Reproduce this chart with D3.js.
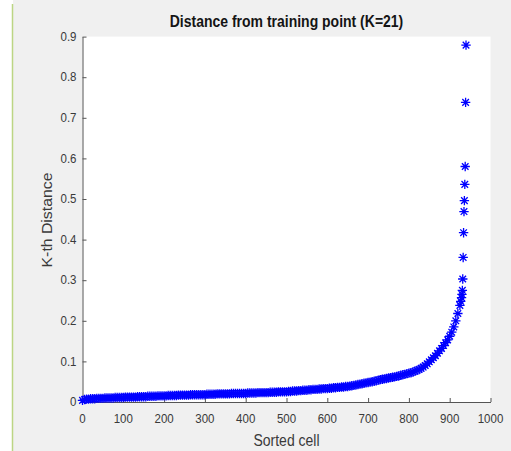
<!DOCTYPE html>
<html>
<head>
<meta charset="utf-8">
<script src="https://cdn.jsdelivr.net/npm/d3@7"></script>
<style>
  body { margin: 0; background: #ffffff; }
  text { font-family: "Liberation Sans", Arial, sans-serif; }
</style>
</head>
<body>
<script>
// sorted cell index and the K-th neighbour distance
var cells = [
  0, 5, 10, 15, 20, 25, 30, 35, 40, 45,
  50, 55, 60, 65, 70, 75, 80, 85, 90, 95,
  100, 105, 110, 115, 120, 125, 130, 135, 140, 145,
  150, 155, 160, 165, 170, 175, 180, 185, 190, 195,
  200, 205, 210, 215, 220, 225, 230, 235, 240, 245,
  250, 255, 260, 265, 270, 275, 280, 285, 290, 295,
  300, 305, 310, 315, 320, 325, 330, 335, 340, 345,
  350, 355, 360, 365, 370, 375, 380, 385, 390, 395,
  400, 405, 410, 415, 420, 425, 430, 435, 440, 445,
  450, 455, 460, 465, 470, 475, 480, 485, 490, 495,
  500, 505, 510, 515, 520, 525, 530, 535, 540, 545,
  550, 555, 560, 565, 570, 575, 580, 585, 590, 595,
  600, 605, 610, 615, 620, 625, 630, 635, 640, 645,
  650, 655, 660, 665, 670, 675, 680, 685, 690, 695,
  700, 705, 710, 715, 720, 725, 730, 735, 740, 745,
  750, 755, 760, 765, 770, 775, 780, 785, 790, 795,
  800, 805, 810, 815, 820, 825, 830, 835, 840, 845,
  850, 855, 860, 865, 870, 875, 880, 885, 890, 895,
  900, 905, 910, 915, 920, 925, 927, 929, 930,
  931, 932, 933, 934, 935, 936, 937, 938, 939, 940
];

var dist = [
  .004, .006, .007, .007, .008, .008, .008, .009, .009, .009,
  .009, .010, .010, .010, .010, .010, .011, .011, .011, .011,
  .011, .012, .012, .012, .012, .012, .012, .013, .013, .013,
  .013, .013, .014, .014, .014, .014, .014, .015, .015, .015,
  .015, .015, .016, .016, .016, .016, .016, .017, .017, .017,
  .017, .017, .017, .018, .018, .018, .018, .018, .018, .018,
  .018, .019, .019, .019, .019, .019, .020, .020, .020, .020,
  .020, .020, .020, .021, .021, .021, .021, .021, .021, .021,
  .021, .022, .022, .022, .022, .022, .023, .023, .023, .023,
  .023, .023, .024, .024, .024, .024, .025, .025, .025, .025,
  .025, .026, .026, .027, .027, .027, .028, .028, .029, .029,
  .029, .030, .030, .031, .031, .031, .032, .032, .033, .033,
  .033, .034, .034, .035, .035, .036, .036, .037, .037, .038,
  .038, .039, .040, .041, .042, .043, .044, .045, .046, .047,
  .048, .049, .050, .051, .052, .054, .055, .056, .057, .058,
  .059, .060, .061, .062, .063, .064, .066, .067, .068, .070,
  .071, .072, .074, .076, .078, .080, .083, .086, .090, .094,
  .099, .104, .109, .114, .120, .126, .132, .139, .146, .153,
  .162, .172, .185, .200, .218, .238, .248, .257, .265,
  .275, .303, .356, .417, .469, .496, .536, .580, .738, .879
];

var xTicks = [0, 100, 200, 300, 400, 500, 600, 700, 800, 900, 1000];
var yTicks = [0, 0.1, 0.2, 0.3, 0.4, 0.5, 0.6, 0.7, 0.8, 0.9];

var W = 511, H = 451;
var plot = { left: 82.5, right: 490.5, top: 36.6, bottom: 402 };
var stretch = 1.13;

var svg = d3.select("body")
            .append("svg")
            .attr("width", W)
            .attr("height", H);

svg.append("rect")
   .attr("x", 13).attr("y", 0)
   .attr("width", W - 13).attr("height", H)
   .attr("fill", "#f0f0f0");

svg.append("line")
   .attr("x1", 12.5).attr("x2", 12.5)
   .attr("y1", 4).attr("y2", H)
   .attr("stroke", "#bcd584")
   .attr("stroke-width", 1.5);

svg.append("rect")
   .attr("x", plot.left).attr("y", plot.top)
   .attr("width", plot.right - plot.left)
   .attr("height", plot.bottom - plot.top)
   .attr("fill", "#ffffff");

var x = d3.scaleLinear().domain([0, 1000]).range([plot.left, plot.right]);
var y = d3.scaleLinear().domain([0, 0.9]).range([plot.bottom, plot.top]);

// ticks point inward like matlab
var xAxis = svg.append("g")
   .attr("transform", "translate(0," + plot.bottom + ")")
   .call(d3.axisTop(x).tickValues(xTicks).tickSize(4).tickSizeOuter(0).tickFormat(""));

var yAxis = svg.append("g")
   .attr("transform", "translate(" + plot.left + ",0)")
   .call(d3.axisRight(y).tickValues(yTicks).tickSize(4).tickSizeOuter(0).tickFormat(""));

svg.selectAll(".domain, .tick line")
   .attr("stroke", "#555555")
   .attr("stroke-width", 1);

function label(t, px, py, size, rot) {
  return svg.append("text")
     .attr("transform", "translate(" + px + "," + py + ")" + (rot ? " rotate(" + rot + ")" : "") +
           (rot ? " scale(" + stretch + ",1)" : " scale(1," + stretch + ")"))
     .attr("font-size", size)
     .attr("fill", "#3a3a3a")
     .attr("dominant-baseline", "central")
     .text(t);
}

xTicks.forEach(function(v) {
  label(d3.format("d")(v), x(v), 419, 11.5).attr("text-anchor", "middle");
});

yTicks.forEach(function(v) {
  label(v === 0 ? "0" : d3.format(".1f")(v), plot.left - 6, y(v), 11.5).attr("text-anchor", "end");
});

label("Sorted cell", (plot.left + plot.right) / 2, 440, 14).attr("text-anchor", "middle");
label("K-th Distance", 47, 220, 14, -90).attr("text-anchor", "middle");
label("Distance from training point (K=21)", (plot.left + plot.right) / 2, 21, 14)
   .attr("text-anchor", "middle")
   .attr("font-weight", "bold")
   .attr("fill", "#141414");

var star = "M-4.7,0L4.7,0M0,-4.7L0,4.7M-3.3,-3.3L3.3,3.3M-3.3,3.3L3.3,-3.3";

svg.append("g")
   .selectAll("path")
   .data(cells)
   .enter()
   .append("path")
   .attr("transform", function(d, i) { return "translate(" + x(d) + "," + y(dist[i]) + ")"; })
   .attr("d", star)
   .attr("fill", "none")
   .attr("stroke", "#0000ff")
   .attr("stroke-width", 1.3);
</script>
</body>
</html>
